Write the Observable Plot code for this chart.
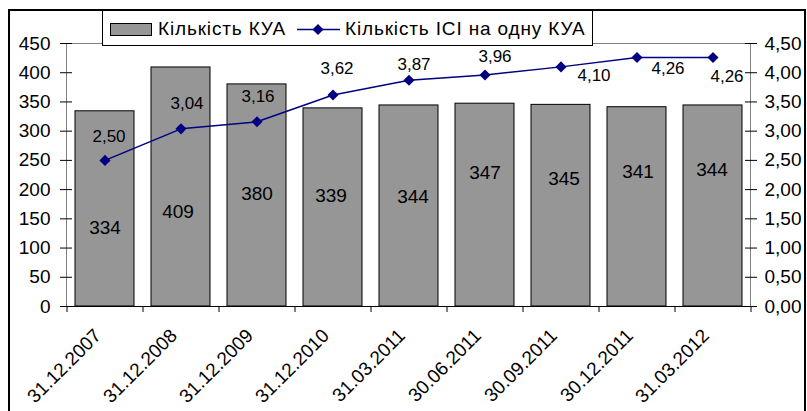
<!DOCTYPE html>
<html>
<head>
<meta charset="utf-8">
<script src="https://cdn.jsdelivr.net/npm/d3@7"></script>
<script src="https://cdn.jsdelivr.net/npm/@observablehq/plot@0.6"></script>
<style>
  html, body { margin: 0; padding: 0; background: #fff; width: 807px; height: 411px; overflow: hidden; }
  #border { position: absolute; left: 8px; top: 9px; width: 794px; height: 440px; border: 2px solid #000; }
  #chart { position: absolute; left: 0; top: 0; }
  #legend { position: absolute; left: 102px; top: 10px; width: 489px; height: 34px; border: 1px solid #000; background: #fff; }
  #legend svg { position: absolute; left: -1px; top: -1px; }
</style>
</head>
<body>
<div id="border"></div>
<div id="chart"></div>
<div id="legend"></div>
<script>
// ---- data ----
const dates = ["31.12.2007", "31.12.2008", "31.12.2009", "31.12.2010", "31.03.2011", "30.06.2011", "30.09.2011", "30.12.2011", "31.03.2012"];
const kuaCount = [334, 409, 380, 339, 344, 347, 345, 341, 344];
const iciPerKua = [2.50, 3.04, 3.16, 3.62, 3.87, 3.96, 4.10, 4.26, 4.26];
const leftTicks = [0, 50, 100, 150, 200, 250, 300, 350, 400, 450];
const rightTicks = [0, 0.5, 1, 1.5, 2, 2.5, 3, 3.5, 4, 4.5];
const seriesNames = ["Кількість КУА", "Кількість ІСІ на одну КУА"];

// ---- label layout (manual placement as in the original) ----
const barLabelLevel = [135, 161, 193, 190, 187, 229, 219, 231, 234]; // in left-axis units
const barLabelDx = [0, -3, 0, -2, 4, 0, 3, 1, -1];
const lineLabelOffset = [[4, -24], [6, -25], [1, -25], [4, -26], [5, -16], [10, -19], [33, 9], [31, 11], [14, 19]];

const rows = dates.map((d, i) => ({date: d, kua: kuaCount[i], per: iciPerKua[i], i}));
const comma = v => v.toFixed(2).replace(".", ",");
const rightScale = 100; // right axis 0..4.5 mapped onto 0..450

const W = 807, H = 411, mL = 66, mR = 57, mT = 43, mB = 105;
const pIn = 0.23, pOut = 0.115;
const step = (W - mL - mR) / (dates.length - pIn + 2 * pOut);

const font = "'Liberation Sans', Arial, sans-serif";

const barLabels = rows.map((r, i) => Plot.text([r], {
  x: "date", y: () => barLabelLevel[i], text: d => String(d.kua),
  dx: barLabelDx[i], fontSize: 19, fill: "#000"
}));
const lineLabels = rows.map((r, i) => Plot.text([r], {
  x: "date", y: d => d.per * rightScale, text: d => comma(d.per),
  dx: lineLabelOffset[i][0], dy: lineLabelOffset[i][1], fontSize: 17, fill: "#000"
}));

const chart = Plot.plot({
  width: W, height: H,
  marginLeft: mL, marginRight: mR, marginTop: mT, marginBottom: mB,
  style: {fontFamily: font, fontSize: "19px", color: "#000", background: "transparent", overflow: "visible"},
  x: {type: "band", domain: dates, paddingInner: pIn, paddingOuter: pOut, label: null},
  y: {domain: [0, 450], label: null},
  marks: [
    Plot.frame({stroke: "#808080"}),
    Plot.barY(rows, {x: "date", y: "kua", fill: "#969696", stroke: "#000", strokeWidth: 1}),
    Plot.axisY(leftTicks, {anchor: "left", tickSize: 12, insetLeft: 6, tickPadding: 10, line: true, label: null, fontSize: 19}),
    Plot.axisY(rightTicks.map(t => t * rightScale), {anchor: "right", tickSize: 12, insetRight: 6, tickPadding: 8, line: true, label: null, fontSize: 19, tickFormat: d => comma(d / rightScale)}),
    Plot.ruleY([0], {stroke: "#000"}),
    Plot.axisX({tickSize: 0, tickRotate: -45, tickPadding: 26, dx: -7, label: null, fontSize: 19, style: {letterSpacing: "0.4px"}}),
    Plot.axisX({tickSize: 6, dx: -step / 2, fill: "none", label: null}),
    Plot.axisX([dates[dates.length - 1]], {tickSize: 6, dx: step / 2, fill: "none", label: null}),
    Plot.line(rows, {x: "date", y: d => d.per * rightScale, stroke: "#000080", strokeWidth: 1.5}),
    Plot.dot(rows, {x: "date", y: d => d.per * rightScale, symbol: "diamond2", r: 5, fill: "#000080", stroke: "none"}),
    ...barLabels,
    ...lineLabels
  ]
});
document.getElementById("chart").appendChild(chart);
d3.select(chart).selectAll("[aria-label='x-axis tick-label'] text").style("letter-spacing", "0.4px");

// ---- legend ----
const lg = d3.select("#legend").append("svg").attr("width", 491).attr("height", 36)
  .style("font-family", font).style("font-size", "19px").style("letter-spacing", "0.85px");
lg.append("rect").attr("x", 8.5).attr("y", 13.5).attr("width", 41).attr("height", 12)
  .attr("fill", "#969696").attr("stroke", "#000");
lg.append("text").attr("x", 56).attr("y", 25).text(seriesNames[0]);
lg.append("line").attr("x1", 195).attr("x2", 238).attr("y1", 19.5).attr("y2", 19.5)
  .attr("stroke", "#000080").attr("stroke-width", 1.5);
lg.append("path").attr("transform", "translate(216,19.5)")
  .attr("d", d3.symbol(d3.symbolDiamond2, 5 * 5 * Math.PI)()).attr("fill", "#000080");
lg.append("text").attr("x", 243).attr("y", 25).text(seriesNames[1]);
</script>
</body>
</html>
